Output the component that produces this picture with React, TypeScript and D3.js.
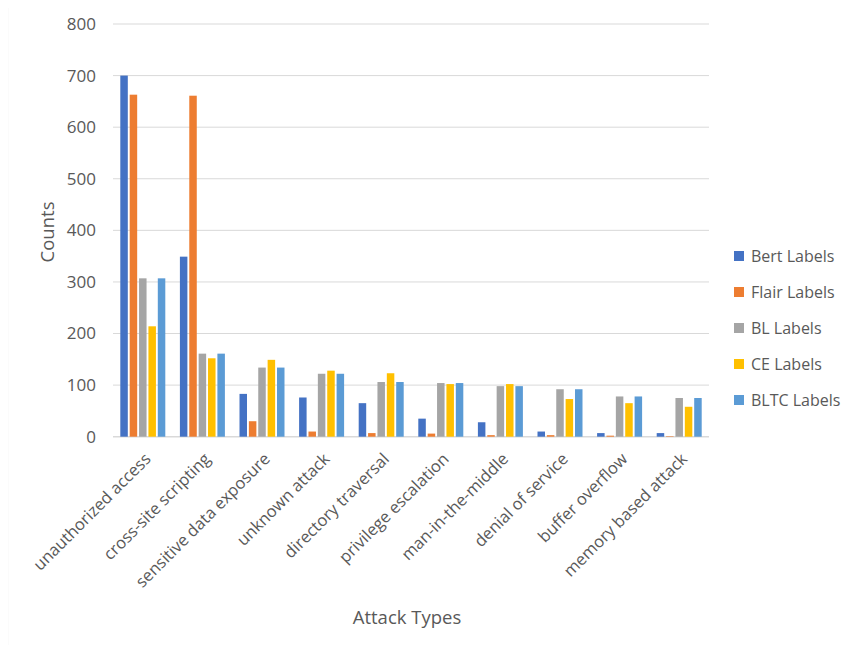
import React from 'react';
import * as d3 from 'd3';

const categories = [
  'unauthorized access',
  'cross-site scripting',
  'sensitive data exposure',
  'unknown attack',
  'directory traversal',
  'privilege escalation',
  'man-in-the-middle',
  'denial of service',
  'buffer overflow',
  'memory based attack',
];

const seriesNames = ['Bert Labels', 'Flair Labels', 'BL Labels', 'CE Labels', 'BLTC Labels'];
const seriesColors = ['#4472c4', '#ed7d31', '#a5a5a5', '#ffc000', '#5b9bd5'];

const bertValues = [700, 349, 83, 76, 65, 35, 28, 10, 7, 7];
const flairValues = [663, 661, 30, 10, 7, 6, 3, 3, 2, 1];
const blValues = [307, 161, 134, 122, 106, 104, 98, 92, 78, 75];
const ceValues = [214, 152, 149, 128, 123, 102, 102, 73, 65, 58];
const bltcValues = [307, 161, 134, 122, 106, 104, 98, 92, 78, 75];

const yTicks = [0, 100, 200, 300, 400, 500, 600, 700, 800];

const W = 852;
const H = 653;
const FONT = '"Open Sans", sans-serif';
const TEXT = '#595959';

export default function App() {
  const series = [bertValues, flairValues, blValues, ceValues, bltcValues];

  const x = d3.scaleBand<string>().domain(categories).range([113, 709]);
  const inner = d3.scaleBand<number>()
    .domain(d3.range(seriesNames.length))
    .range([0, 45])
    .paddingInner(0.2);
  const groupOffset = (x.bandwidth() - 45) / 2;
  const y = d3.scaleLinear().domain([0, 800]).range([436.7, 24]);

  return (
    <div style={{ margin: -8 }}>
      <svg width={W} height={H} style={{ display: 'block', fontFamily: FONT }}>
        <rect x={0} y={0} width={W} height={H} fill="#fff" />
        <path d={`M7.5,${H} V1.5 H${W}`} fill="none" stroke="#cfcfcf" strokeWidth={1.2} />

        {yTicks.map((t) => (
          <g key={t}>
            <line x1={113} x2={709} y1={y(t)} y2={y(t)} stroke="#d9d9d9" strokeWidth={t === 0 ? 1.5 : 1} />
            <text x={96} y={y(t)} dy="0.35em" textAnchor="end" fontSize={17} fill={TEXT}>
              {t}
            </text>
          </g>
        ))}

        {categories.map((c, i) => (
          <g key={c} transform={`translate(${(x(c) ?? 0) + groupOffset},0)`}>
            {series.map((vals, s) => (
              <rect
                key={s}
                x={inner(s)}
                y={y(vals[i])}
                width={inner.bandwidth()}
                height={y(0) - y(vals[i])}
                fill={seriesColors[s]}
              />
            ))}
          </g>
        ))}

        {categories.map((c) => {
          const cx = (x(c) ?? 0) + x.bandwidth() / 2 + 9;
          return (
            <text
              key={c}
              transform={`translate(${cx},460) rotate(-45)`}
              textAnchor="end"
              fontSize={16.5}
              fill={TEXT}
            >
              {c}
            </text>
          );
        })}

        <text
          transform="translate(54,232) rotate(-90)"
          textAnchor="middle"
          fontSize={18.5}
          fill={TEXT}
        >
          Counts
        </text>
        <text x={407} y={624} textAnchor="middle" fontSize={18.5} fill={TEXT}>
          Attack Types
        </text>

        {seriesNames.map((n, i) => (
          <g key={n} transform={`translate(734,${256 + i * 36})`}>
            <rect x={0} y={-5} width={10} height={10} fill={seriesColors[i]} />
            <text x={17} y={0} dy="0.35em" fontSize={16} fill={TEXT}>
              {n}
            </text>
          </g>
        ))}
      </svg>
    </div>
  );
}
